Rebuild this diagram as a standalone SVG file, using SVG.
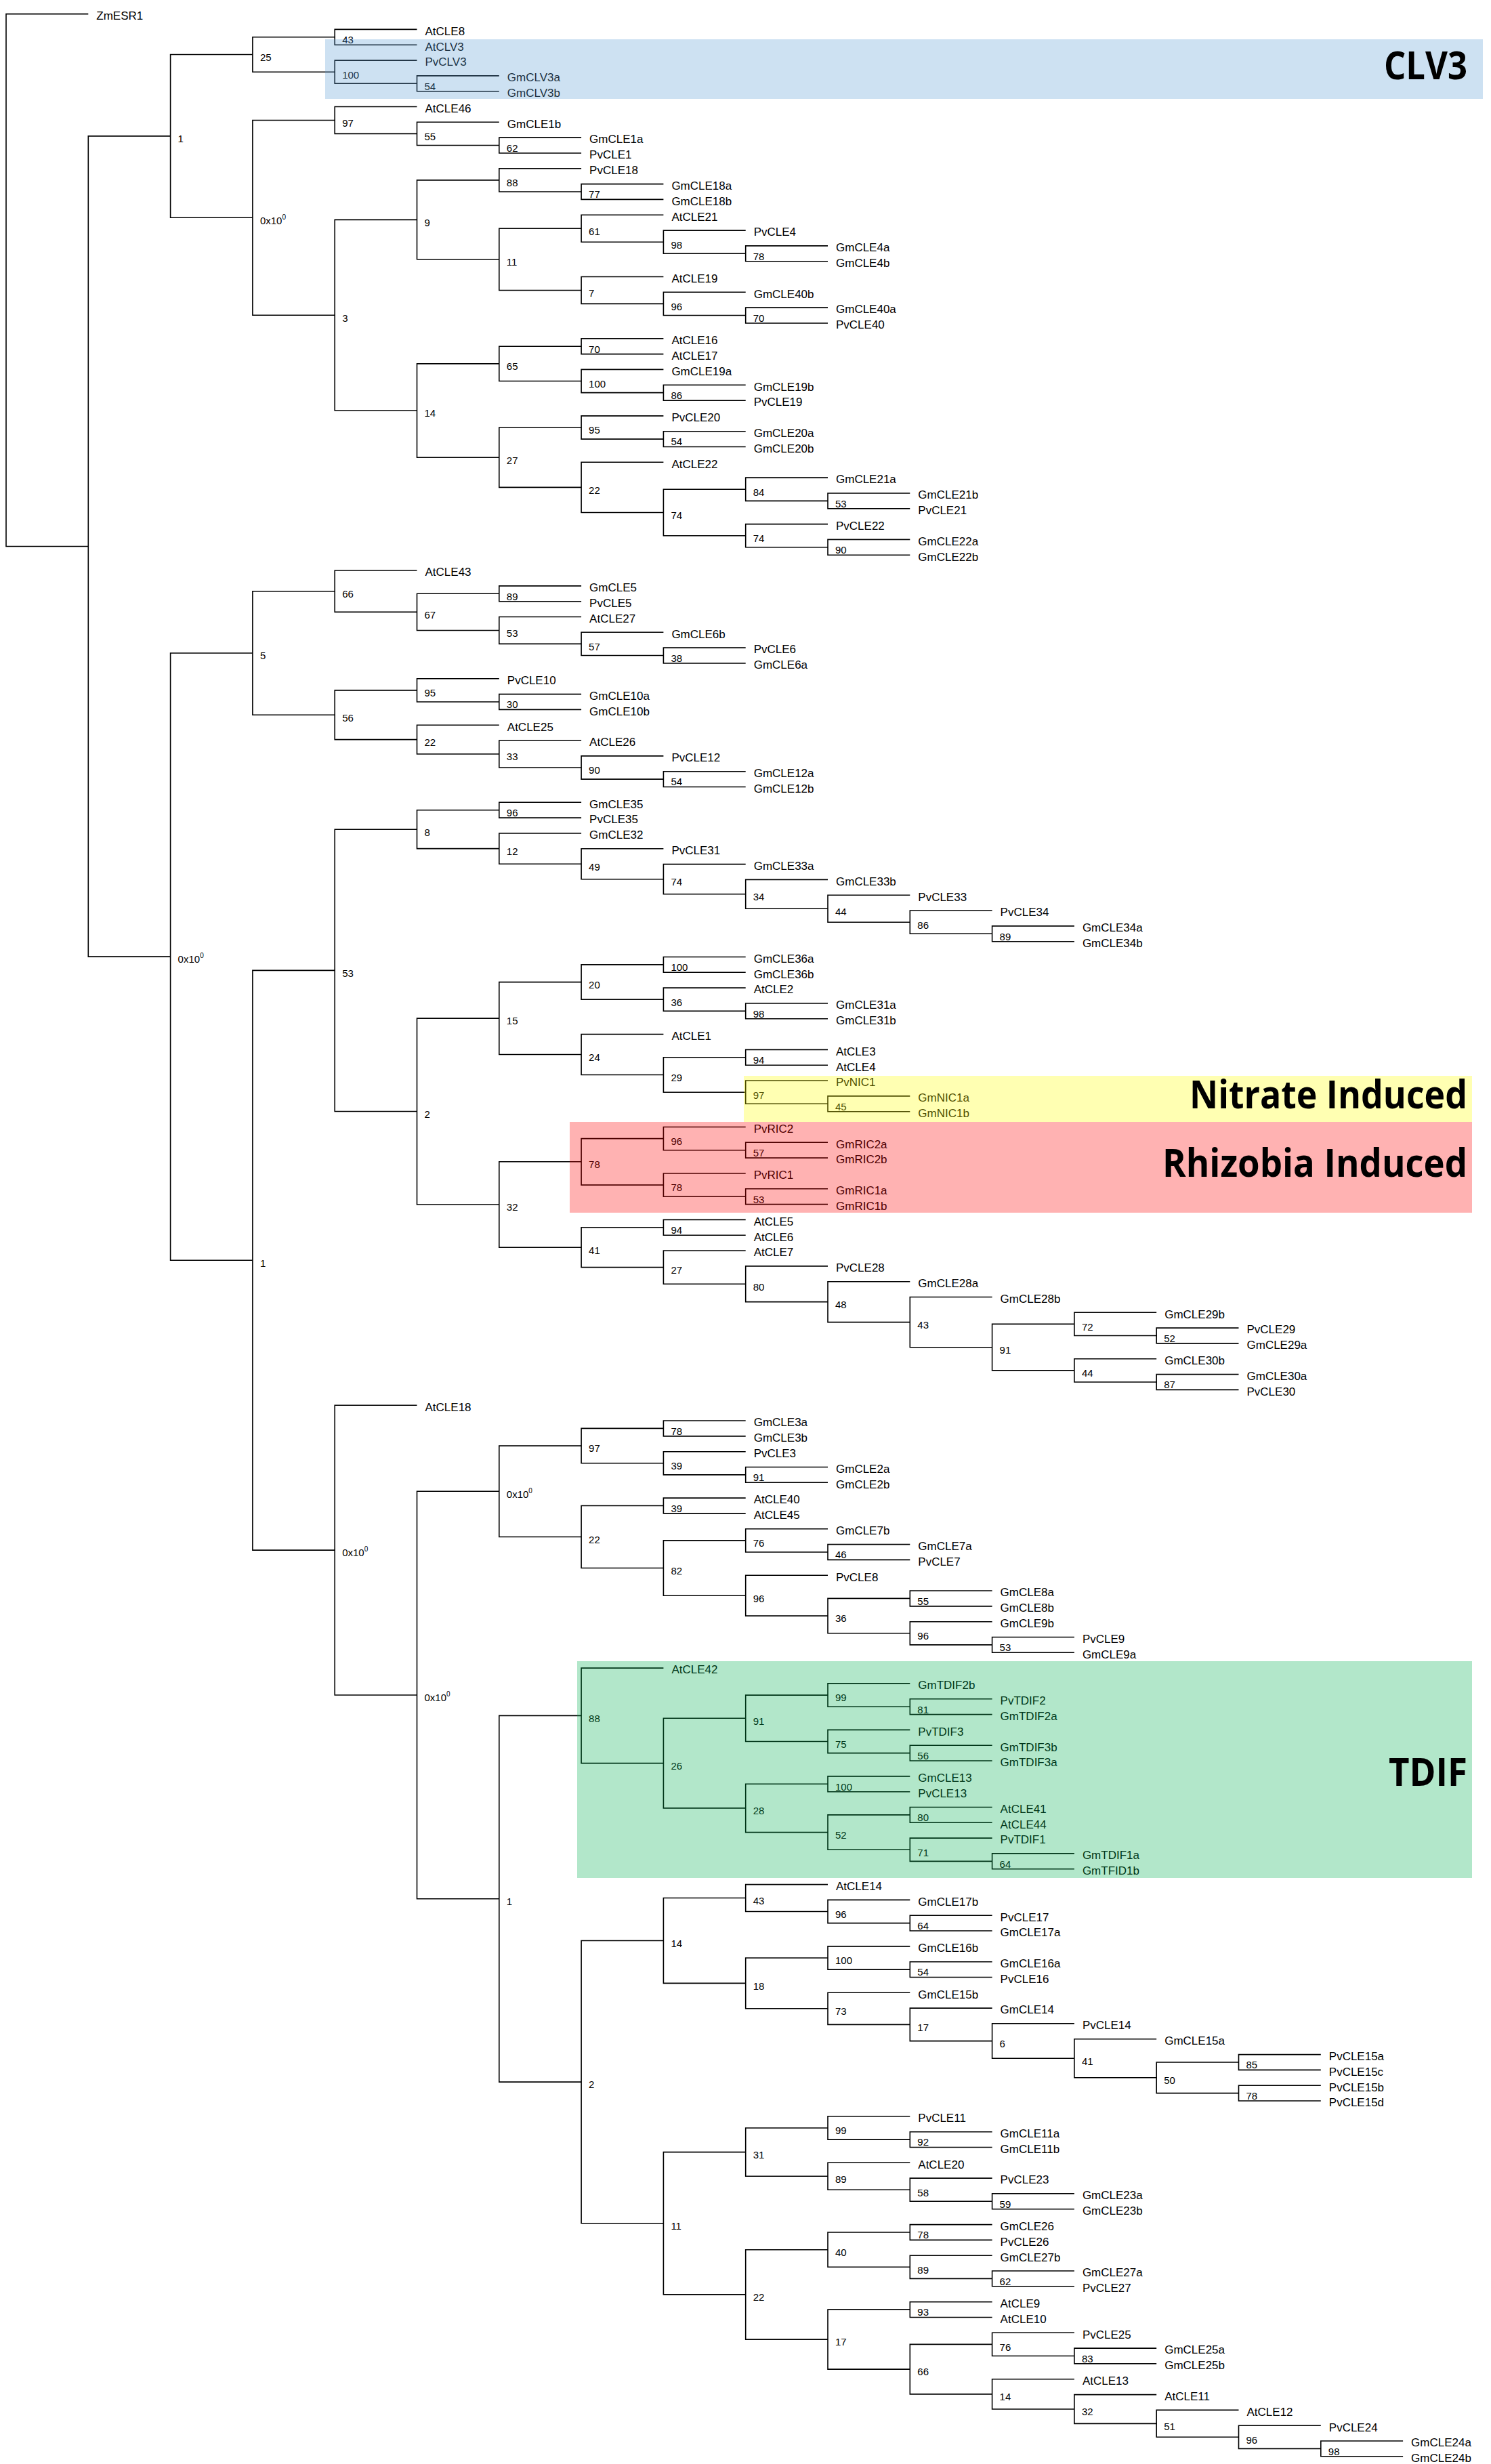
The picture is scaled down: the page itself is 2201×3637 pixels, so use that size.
<svg xmlns="http://www.w3.org/2000/svg" width="2201" height="3637" viewBox="0 0 2201 3637">
<style>
.e path{fill:none;stroke:#000;stroke-width:1.6}
.lf{font-family:"Liberation Sans",Arial,sans-serif;font-size:17px;fill:#000}
.bs{font-family:"Liberation Sans",Arial,sans-serif;font-size:15px;fill:#000}
.sp{font-size:10px}
.hl{fill-opacity:0.3}
.cl{font-family:"Open Sans","Noto Sans",sans-serif;font-weight:700;font-size:57px;fill:#000}
</style>
<rect width="2201" height="3637" fill="#fff"/>
<g id="connectors" class="e">
<path d="M130.3 20.6H9V806.5H130.3"/>
<path d="M251.6 200.9H130.3V1412.1H251.6"/>
<path d="M372.9 80.5H251.6V321.3H372.9"/>
<path d="M494.2 54.8H372.9V106.2H494.2"/>
<path d="M615.5 43.4H494.2V66.2H615.5"/>
<path d="M615.5 89.1H494.2V123.3H615.5"/>
<path d="M736.8 111.9H615.5V134.7H736.8"/>
<path d="M494.2 177.5H372.9V465.2H494.2"/>
<path d="M615.5 157.5H494.2V197.4H615.5"/>
<path d="M736.8 180.3H615.5V214.5H736.8"/>
<path d="M858.1 203.1H736.8V226H858.1"/>
<path d="M615.5 324.4H494.2V606H615.5"/>
<path d="M736.8 265.9H615.5V382.8H736.8"/>
<path d="M858.1 248.8H736.8V283H858.1"/>
<path d="M979.4 271.6H858.1V294.4H979.4"/>
<path d="M858.1 337.2H736.8V428.5H858.1"/>
<path d="M979.4 317.2H858.1V357.2H979.4"/>
<path d="M1100.7 340.1H979.4V374.3H1100.7"/>
<path d="M1222 362.9H1100.7V385.7H1222"/>
<path d="M979.4 408.5H858.1V448.4H979.4"/>
<path d="M1100.7 431.3H979.4V465.5H1100.7"/>
<path d="M1222 454.1H1100.7V477H1222"/>
<path d="M736.8 536.9H615.5V675.2H736.8"/>
<path d="M858.1 511.2H736.8V562.5H858.1"/>
<path d="M979.4 499.8H858.1V522.6H979.4"/>
<path d="M979.4 545.4H858.1V579.6H979.4"/>
<path d="M1100.7 568.2H979.4V591.1H1100.7"/>
<path d="M858.1 631H736.8V719.4H858.1"/>
<path d="M979.4 613.9H858.1V648.1H979.4"/>
<path d="M1100.7 636.7H979.4V659.5H1100.7"/>
<path d="M979.4 682.3H858.1V756.5H979.4"/>
<path d="M1100.7 722.3H979.4V790.7H1100.7"/>
<path d="M1222 705.1H1100.7V739.4H1222"/>
<path d="M1343.3 728H1222V750.8H1343.3"/>
<path d="M1222 773.6H1100.7V807.8H1222"/>
<path d="M1343.3 796.4H1222V819.2H1343.3"/>
<path d="M372.9 964H251.6V1860.2H372.9"/>
<path d="M494.2 872.7H372.9V1055.3H494.2"/>
<path d="M615.5 842H494.2V903.4H615.5"/>
<path d="M736.8 876.3H615.5V930.5H736.8"/>
<path d="M858.1 864.9H736.8V887.7H858.1"/>
<path d="M858.1 910.5H736.8V950.4H858.1"/>
<path d="M979.4 933.3H858.1V967.5H979.4"/>
<path d="M1100.7 956.1H979.4V979H1100.7"/>
<path d="M615.5 1018.9H494.2V1091.6H615.5"/>
<path d="M736.8 1001.8H615.5V1036H736.8"/>
<path d="M858.1 1024.6H736.8V1047.4H858.1"/>
<path d="M736.8 1070.2H615.5V1113H736.8"/>
<path d="M858.1 1093H736.8V1133H858.1"/>
<path d="M979.4 1115.9H858.1V1150.1H979.4"/>
<path d="M1100.7 1138.7H979.4V1161.5H1100.7"/>
<path d="M494.2 1432.4H372.9V2288.1H494.2"/>
<path d="M615.5 1224.2H494.2V1640.5H615.5"/>
<path d="M736.8 1195.7H615.5V1252.6H736.8"/>
<path d="M858.1 1184.3H736.8V1207.1H858.1"/>
<path d="M858.1 1230H736.8V1275.2H858.1"/>
<path d="M979.4 1252.8H858.1V1297.7H979.4"/>
<path d="M1100.7 1275.6H979.4V1319.8H1100.7"/>
<path d="M1222 1298.4H1100.7V1341.2H1222"/>
<path d="M1343.3 1321.2H1222V1361.2H1343.3"/>
<path d="M1464.6 1344H1343.3V1378.3H1464.6"/>
<path d="M1585.9 1366.9H1464.6V1389.7H1585.9"/>
<path d="M736.8 1503.1H615.5V1778H736.8"/>
<path d="M858.1 1449.6H736.8V1556.5H858.1"/>
<path d="M979.4 1423.9H858.1V1475.3H979.4"/>
<path d="M1100.7 1412.5H979.4V1435.3H1100.7"/>
<path d="M1100.7 1458.1H979.4V1492.4H1100.7"/>
<path d="M1222 1481H1100.7V1503.8H1222"/>
<path d="M979.4 1526.6H858.1V1586.5H979.4"/>
<path d="M1100.7 1560.8H979.4V1612.2H1100.7"/>
<path d="M1222 1549.4H1100.7V1572.2H1222"/>
<path d="M1222 1595H1100.7V1629.3H1222"/>
<path d="M1343.3 1617.9H1222V1640.7H1343.3"/>
<path d="M858.1 1714.8H736.8V1841.2H858.1"/>
<path d="M979.4 1680.6H858.1V1749.1H979.4"/>
<path d="M1100.7 1663.5H979.4V1697.7H1100.7"/>
<path d="M1222 1686.3H1100.7V1709.1H1222"/>
<path d="M1100.7 1732H979.4V1766.2H1100.7"/>
<path d="M1222 1754.8H1100.7V1777.6H1222"/>
<path d="M979.4 1811.8H858.1V1870.6H979.4"/>
<path d="M1100.7 1800.4H979.4V1823.2H1100.7"/>
<path d="M1100.7 1846H979.4V1895.2H1100.7"/>
<path d="M1222 1868.9H1100.7V1921.6H1222"/>
<path d="M1343.3 1891.7H1222V1951.6H1343.3"/>
<path d="M1464.6 1914.5H1343.3V1988.7H1464.6"/>
<path d="M1585.9 1954.4H1464.6V2022.9H1585.9"/>
<path d="M1707.2 1937.3H1585.9V1971.5H1707.2"/>
<path d="M1828.5 1960.1H1707.2V1982.9H1828.5"/>
<path d="M1707.2 2005.8H1585.9V2040H1707.2"/>
<path d="M1828.5 2028.6H1707.2V2051.4H1828.5"/>
<path d="M615.5 2074.2H494.2V2502H615.5"/>
<path d="M736.8 2201.3H615.5V2802.7H736.8"/>
<path d="M858.1 2134.1H736.8V2268.5H858.1"/>
<path d="M979.4 2108.4H858.1V2159.8H979.4"/>
<path d="M1100.7 2097H979.4V2119.9H1100.7"/>
<path d="M1100.7 2142.7H979.4V2176.9H1100.7"/>
<path d="M1222 2165.5H1100.7V2188.3H1222"/>
<path d="M979.4 2222.5H858.1V2314.5H979.4"/>
<path d="M1100.7 2211.1H979.4V2233.9H1100.7"/>
<path d="M1100.7 2273.9H979.4V2355.2H1100.7"/>
<path d="M1222 2256.8H1100.7V2291H1222"/>
<path d="M1343.3 2279.6H1222V2302.4H1343.3"/>
<path d="M1222 2325.2H1100.7V2385.1H1222"/>
<path d="M1343.3 2359.4H1222V2410.8H1343.3"/>
<path d="M1464.6 2348H1343.3V2370.9H1464.6"/>
<path d="M1464.6 2393.7H1343.3V2427.9H1464.6"/>
<path d="M1585.9 2416.5H1464.6V2439.3H1585.9"/>
<path d="M858.1 2532.4H736.8V3073.1H858.1"/>
<path d="M979.4 2462.1H858.1V2602.6H979.4"/>
<path d="M1100.7 2536.3H979.4V2668.9H1100.7"/>
<path d="M1222 2502.1H1100.7V2570.5H1222"/>
<path d="M1343.3 2484.9H1222V2519.2H1343.3"/>
<path d="M1464.6 2507.8H1343.3V2530.6H1464.6"/>
<path d="M1343.3 2553.4H1222V2587.6H1343.3"/>
<path d="M1464.6 2576.2H1343.3V2599H1464.6"/>
<path d="M1222 2633.3H1100.7V2704.6H1222"/>
<path d="M1343.3 2621.9H1222V2644.7H1343.3"/>
<path d="M1343.3 2678.9H1222V2730.2H1343.3"/>
<path d="M1464.6 2667.5H1343.3V2690.3H1464.6"/>
<path d="M1464.6 2713.1H1343.3V2747.4H1464.6"/>
<path d="M1585.9 2735.9H1464.6V2758.8H1585.9"/>
<path d="M979.4 2864.5H858.1V3281.8H979.4"/>
<path d="M1100.7 2801.5H979.4V2927.4H1100.7"/>
<path d="M1222 2781.6H1100.7V2821.5H1222"/>
<path d="M1343.3 2804.4H1222V2838.6H1343.3"/>
<path d="M1464.6 2827.2H1343.3V2850H1464.6"/>
<path d="M1222 2890H1100.7V2964.8H1222"/>
<path d="M1343.3 2872.9H1222V2907.1H1343.3"/>
<path d="M1464.6 2895.7H1343.3V2918.5H1464.6"/>
<path d="M1343.3 2941.3H1222V2988.4H1343.3"/>
<path d="M1464.6 2964.1H1343.3V3012.6H1464.6"/>
<path d="M1585.9 2986.9H1464.6V3038.3H1585.9"/>
<path d="M1707.2 3009.8H1585.9V3066.8H1707.2"/>
<path d="M1828.5 3044H1707.2V3089.6H1828.5"/>
<path d="M1949.8 3032.6H1828.5V3055.4H1949.8"/>
<path d="M1949.8 3078.2H1828.5V3101H1949.8"/>
<path d="M1100.7 3176.6H979.4V3386.9H1100.7"/>
<path d="M1222 3141H1100.7V3212.3H1222"/>
<path d="M1343.3 3123.8H1222V3158.1H1343.3"/>
<path d="M1464.6 3146.7H1343.3V3169.5H1464.6"/>
<path d="M1343.3 3192.3H1222V3232.2H1343.3"/>
<path d="M1464.6 3215.1H1343.3V3249.3H1464.6"/>
<path d="M1585.9 3237.9H1464.6V3260.8H1585.9"/>
<path d="M1222 3320.7H1100.7V3453.1H1222"/>
<path d="M1343.3 3295H1222V3346.3H1343.3"/>
<path d="M1464.6 3283.6H1343.3V3306.4H1464.6"/>
<path d="M1464.6 3329.2H1343.3V3363.4H1464.6"/>
<path d="M1585.9 3352H1464.6V3374.8H1585.9"/>
<path d="M1343.3 3409.1H1222V3497.1H1343.3"/>
<path d="M1464.6 3397.7H1343.3V3420.5H1464.6"/>
<path d="M1464.6 3460.4H1343.3V3533.9H1464.6"/>
<path d="M1585.9 3443.3H1464.6V3477.5H1585.9"/>
<path d="M1707.2 3466.1H1585.9V3488.9H1707.2"/>
<path d="M1585.9 3511.8H1464.6V3556H1585.9"/>
<path d="M1707.2 3534.6H1585.9V3577.4H1707.2"/>
<path d="M1828.5 3557.4H1707.2V3597.3H1828.5"/>
<path d="M1949.8 3580.2H1828.5V3614.4H1949.8"/>
<path d="M2071.1 3603H1949.8V3625.8H2071.1"/>
</g>
<g id="support-values" class="bs">
<g id="n-A1"><text x="262.6" y="210.2">1</text></g>
<g id="n-25"><text x="383.9" y="89.8">25</text></g>
<g id="n-43a"><text x="505.2" y="64.1">43</text></g>
<g id="n-100a"><text x="505.2" y="115.5">100</text></g>
<g id="n-54a"><text x="626.5" y="132.6">54</text></g>
<g id="n-A2"><text x="383.9" y="330.6">0x10<tspan class="sp" dy="-7">0</tspan></text></g>
<g id="n-97a"><text x="505.2" y="186.8">97</text></g>
<g id="n-55a"><text x="626.5" y="206.7">55</text></g>
<g id="n-62a"><text x="747.8" y="223.8">62</text></g>
<g id="n-3"><text x="505.2" y="474.5">3</text></g>
<g id="n-9"><text x="626.5" y="333.7">9</text></g>
<g id="n-88a"><text x="747.8" y="275.2">88</text></g>
<g id="n-77"><text x="869.1" y="292.3">77</text></g>
<g id="n-11a"><text x="747.8" y="392.1">11</text></g>
<g id="n-61"><text x="869.1" y="346.5">61</text></g>
<g id="n-98a"><text x="990.4" y="366.5">98</text></g>
<g id="n-78a"><text x="1111.7" y="383.6">78</text></g>
<g id="n-7"><text x="869.1" y="437.8">7</text></g>
<g id="n-96a"><text x="990.4" y="457.7">96</text></g>
<g id="n-70a"><text x="1111.7" y="474.8">70</text></g>
<g id="n-14a"><text x="626.5" y="615.3">14</text></g>
<g id="n-65"><text x="747.8" y="546.2">65</text></g>
<g id="n-70b"><text x="869.1" y="520.5">70</text></g>
<g id="n-100b"><text x="869.1" y="571.8">100</text></g>
<g id="n-86a"><text x="990.4" y="588.9">86</text></g>
<g id="n-27a"><text x="747.8" y="684.5">27</text></g>
<g id="n-95a"><text x="869.1" y="640.3">95</text></g>
<g id="n-54b"><text x="990.4" y="657.4">54</text></g>
<g id="n-22a"><text x="869.1" y="728.7">22</text></g>
<g id="n-74b"><text x="990.4" y="765.8">74</text></g>
<g id="n-84"><text x="1111.7" y="731.6">84</text></g>
<g id="n-53a"><text x="1233" y="748.7">53</text></g>
<g id="n-74a"><text x="1111.7" y="800">74</text></g>
<g id="n-90a"><text x="1233" y="817.1">90</text></g>
<g id="n-B"><text x="262.6" y="1421.4">0x10<tspan class="sp" dy="-7">0</tspan></text></g>
<g id="n-5"><text x="383.9" y="973.3">5</text></g>
<g id="n-66a"><text x="505.2" y="882">66</text></g>
<g id="n-67"><text x="626.5" y="912.7">67</text></g>
<g id="n-89a"><text x="747.8" y="885.6">89</text></g>
<g id="n-53b"><text x="747.8" y="939.8">53</text></g>
<g id="n-57a"><text x="869.1" y="959.7">57</text></g>
<g id="n-38"><text x="990.4" y="976.8">38</text></g>
<g id="n-56a"><text x="505.2" y="1064.6">56</text></g>
<g id="n-95b"><text x="626.5" y="1028.2">95</text></g>
<g id="n-30"><text x="747.8" y="1045.3">30</text></g>
<g id="n-22b"><text x="626.5" y="1100.9">22</text></g>
<g id="n-33"><text x="747.8" y="1122.3">33</text></g>
<g id="n-90b"><text x="869.1" y="1142.3">90</text></g>
<g id="n-54c"><text x="990.4" y="1159.4">54</text></g>
<g id="n-1c"><text x="383.9" y="1869.5">1</text></g>
<g id="n-53d"><text x="505.2" y="1441.7">53</text></g>
<g id="n-8"><text x="626.5" y="1233.5">8</text></g>
<g id="n-96b"><text x="747.8" y="1205">96</text></g>
<g id="n-12"><text x="747.8" y="1261.9">12</text></g>
<g id="n-49"><text x="869.1" y="1284.5">49</text></g>
<g id="n-74c"><text x="990.4" y="1307">74</text></g>
<g id="n-34"><text x="1111.7" y="1329.1">34</text></g>
<g id="n-44a"><text x="1233" y="1350.5">44</text></g>
<g id="n-86b"><text x="1354.3" y="1370.5">86</text></g>
<g id="n-89b"><text x="1475.6" y="1387.6">89</text></g>
<g id="n-2a"><text x="626.5" y="1649.8">2</text></g>
<g id="n-15"><text x="747.8" y="1512.4">15</text></g>
<g id="n-20"><text x="869.1" y="1458.9">20</text></g>
<g id="n-100c"><text x="990.4" y="1433.2">100</text></g>
<g id="n-36a"><text x="990.4" y="1484.6">36</text></g>
<g id="n-98b"><text x="1111.7" y="1501.7">98</text></g>
<g id="n-24"><text x="869.1" y="1565.8">24</text></g>
<g id="n-29"><text x="990.4" y="1595.8">29</text></g>
<g id="n-94a"><text x="1111.7" y="1570.1">94</text></g>
<g id="n-97b"><text x="1111.7" y="1621.5">97</text></g>
<g id="n-45"><text x="1233" y="1638.6">45</text></g>
<g id="n-32a"><text x="747.8" y="1787.3">32</text></g>
<g id="n-78c"><text x="869.1" y="1724.1">78</text></g>
<g id="n-96c"><text x="990.4" y="1689.9">96</text></g>
<g id="n-57b"><text x="1111.7" y="1707">57</text></g>
<g id="n-78b"><text x="990.4" y="1758.4">78</text></g>
<g id="n-53c"><text x="1111.7" y="1775.5">53</text></g>
<g id="n-41a"><text x="869.1" y="1850.5">41</text></g>
<g id="n-94b"><text x="990.4" y="1821.1">94</text></g>
<g id="n-27b"><text x="990.4" y="1879.9">27</text></g>
<g id="n-80a"><text x="1111.7" y="1904.5">80</text></g>
<g id="n-48"><text x="1233" y="1930.9">48</text></g>
<g id="n-43b"><text x="1354.3" y="1960.9">43</text></g>
<g id="n-91a"><text x="1475.6" y="1998">91</text></g>
<g id="n-72"><text x="1596.9" y="1963.7">72</text></g>
<g id="n-52a"><text x="1718.2" y="1980.8">52</text></g>
<g id="n-44b"><text x="1596.9" y="2032.2">44</text></g>
<g id="n-87"><text x="1718.2" y="2049.3">87</text></g>
<g id="n-C"><text x="505.2" y="2297.4">0x10<tspan class="sp" dy="-7">0</tspan></text></g>
<g id="n-D"><text x="626.5" y="2511.3">0x10<tspan class="sp" dy="-7">0</tspan></text></g>
<g id="n-E"><text x="747.8" y="2210.6">0x10<tspan class="sp" dy="-7">0</tspan></text></g>
<g id="n-97c"><text x="869.1" y="2143.4">97</text></g>
<g id="n-78d"><text x="990.4" y="2117.7">78</text></g>
<g id="n-39a"><text x="990.4" y="2169.1">39</text></g>
<g id="n-91b"><text x="1111.7" y="2186.2">91</text></g>
<g id="n-22c"><text x="869.1" y="2277.8">22</text></g>
<g id="n-39b"><text x="990.4" y="2231.8">39</text></g>
<g id="n-82"><text x="990.4" y="2323.8">82</text></g>
<g id="n-76a"><text x="1111.7" y="2283.2">76</text></g>
<g id="n-46"><text x="1233" y="2300.3">46</text></g>
<g id="n-96e"><text x="1111.7" y="2364.5">96</text></g>
<g id="n-36b"><text x="1233" y="2394.4">36</text></g>
<g id="n-55b"><text x="1354.3" y="2368.7">55</text></g>
<g id="n-96d"><text x="1354.3" y="2420.1">96</text></g>
<g id="n-53e"><text x="1475.6" y="2437.2">53</text></g>
<g id="n-F"><text x="747.8" y="2812">1</text></g>
<g id="n-88b"><text x="869.1" y="2541.7">88</text></g>
<g id="n-26"><text x="990.4" y="2611.9">26</text></g>
<g id="n-91c"><text x="1111.7" y="2545.6">91</text></g>
<g id="n-99a"><text x="1233" y="2511.4">99</text></g>
<g id="n-81"><text x="1354.3" y="2528.5">81</text></g>
<g id="n-75"><text x="1233" y="2579.8">75</text></g>
<g id="n-56b"><text x="1354.3" y="2596.9">56</text></g>
<g id="n-28"><text x="1111.7" y="2678.2">28</text></g>
<g id="n-100d"><text x="1233" y="2642.6">100</text></g>
<g id="n-52b"><text x="1233" y="2713.9">52</text></g>
<g id="n-80b"><text x="1354.3" y="2688.2">80</text></g>
<g id="n-71"><text x="1354.3" y="2739.5">71</text></g>
<g id="n-64a"><text x="1475.6" y="2756.7">64</text></g>
<g id="n-2b"><text x="869.1" y="3082.4">2</text></g>
<g id="n-14b"><text x="990.4" y="2873.8">14</text></g>
<g id="n-43c"><text x="1111.7" y="2810.8">43</text></g>
<g id="n-96f"><text x="1233" y="2830.8">96</text></g>
<g id="n-64b"><text x="1354.3" y="2847.9">64</text></g>
<g id="n-18"><text x="1111.7" y="2936.7">18</text></g>
<g id="n-100e"><text x="1233" y="2899.3">100</text></g>
<g id="n-54d"><text x="1354.3" y="2916.4">54</text></g>
<g id="n-73"><text x="1233" y="2974.1">73</text></g>
<g id="n-17a"><text x="1354.3" y="2997.7">17</text></g>
<g id="n-6"><text x="1475.6" y="3021.9">6</text></g>
<g id="n-41b"><text x="1596.9" y="3047.6">41</text></g>
<g id="n-50"><text x="1718.2" y="3076.1">50</text></g>
<g id="n-85"><text x="1839.5" y="3053.3">85</text></g>
<g id="n-78e"><text x="1839.5" y="3098.9">78</text></g>
<g id="n-11b"><text x="990.4" y="3291.1">11</text></g>
<g id="n-31"><text x="1111.7" y="3185.9">31</text></g>
<g id="n-99b"><text x="1233" y="3150.3">99</text></g>
<g id="n-92"><text x="1354.3" y="3167.4">92</text></g>
<g id="n-89c"><text x="1233" y="3221.6">89</text></g>
<g id="n-58"><text x="1354.3" y="3241.5">58</text></g>
<g id="n-59"><text x="1475.6" y="3258.6">59</text></g>
<g id="n-22d"><text x="1111.7" y="3396.2">22</text></g>
<g id="n-40"><text x="1233" y="3330">40</text></g>
<g id="n-78f"><text x="1354.3" y="3304.3">78</text></g>
<g id="n-89d"><text x="1354.3" y="3355.6">89</text></g>
<g id="n-62b"><text x="1475.6" y="3372.7">62</text></g>
<g id="n-17b"><text x="1233" y="3462.4">17</text></g>
<g id="n-93"><text x="1354.3" y="3418.4">93</text></g>
<g id="n-66b"><text x="1354.3" y="3506.4">66</text></g>
<g id="n-76b"><text x="1475.6" y="3469.7">76</text></g>
<g id="n-83"><text x="1596.9" y="3486.8">83</text></g>
<g id="n-14c"><text x="1475.6" y="3543.2">14</text></g>
<g id="n-32b"><text x="1596.9" y="3565.3">32</text></g>
<g id="n-51"><text x="1718.2" y="3586.7">51</text></g>
<g id="n-96g"><text x="1839.5" y="3606.6">96</text></g>
<g id="n-98c"><text x="1960.8" y="3623.7">98</text></g>
</g>
<g id="leaves" class="lf">
<g id="l-ZmESR1"><text x="142.3" y="28.9">ZmESR1</text></g>
<g id="l-AtCLE8"><text x="627.5" y="51.7">AtCLE8</text></g>
<g id="l-AtCLV3"><text x="627.5" y="74.5">AtCLV3</text></g>
<g id="l-PvCLV3"><text x="627.5" y="97.4">PvCLV3</text></g>
<g id="l-GmCLV3a"><text x="748.8" y="120.2">GmCLV3a</text></g>
<g id="l-GmCLV3b"><text x="748.8" y="143">GmCLV3b</text></g>
<g id="l-AtCLE46"><text x="627.5" y="165.8">AtCLE46</text></g>
<g id="l-GmCLE1b"><text x="748.8" y="188.6">GmCLE1b</text></g>
<g id="l-GmCLE1a"><text x="870.1" y="211.4">GmCLE1a</text></g>
<g id="l-PvCLE1"><text x="870.1" y="234.3">PvCLE1</text></g>
<g id="l-PvCLE18"><text x="870.1" y="257.1">PvCLE18</text></g>
<g id="l-GmCLE18a"><text x="991.4" y="279.9">GmCLE18a</text></g>
<g id="l-GmCLE18b"><text x="991.4" y="302.7">GmCLE18b</text></g>
<g id="l-AtCLE21"><text x="991.4" y="325.5">AtCLE21</text></g>
<g id="l-PvCLE4"><text x="1112.7" y="348.4">PvCLE4</text></g>
<g id="l-GmCLE4a"><text x="1234" y="371.2">GmCLE4a</text></g>
<g id="l-GmCLE4b"><text x="1234" y="394">GmCLE4b</text></g>
<g id="l-AtCLE19"><text x="991.4" y="416.8">AtCLE19</text></g>
<g id="l-GmCLE40b"><text x="1112.7" y="439.6">GmCLE40b</text></g>
<g id="l-GmCLE40a"><text x="1234" y="462.4">GmCLE40a</text></g>
<g id="l-PvCLE40"><text x="1234" y="485.3">PvCLE40</text></g>
<g id="l-AtCLE16"><text x="991.4" y="508.1">AtCLE16</text></g>
<g id="l-AtCLE17"><text x="991.4" y="530.9">AtCLE17</text></g>
<g id="l-GmCLE19a"><text x="991.4" y="553.7">GmCLE19a</text></g>
<g id="l-GmCLE19b"><text x="1112.7" y="576.5">GmCLE19b</text></g>
<g id="l-PvCLE19"><text x="1112.7" y="599.4">PvCLE19</text></g>
<g id="l-PvCLE20"><text x="991.4" y="622.2">PvCLE20</text></g>
<g id="l-GmCLE20a"><text x="1112.7" y="645">GmCLE20a</text></g>
<g id="l-GmCLE20b"><text x="1112.7" y="667.8">GmCLE20b</text></g>
<g id="l-AtCLE22"><text x="991.4" y="690.6">AtCLE22</text></g>
<g id="l-GmCLE21a"><text x="1234" y="713.4">GmCLE21a</text></g>
<g id="l-GmCLE21b"><text x="1355.3" y="736.3">GmCLE21b</text></g>
<g id="l-PvCLE21"><text x="1355.3" y="759.1">PvCLE21</text></g>
<g id="l-PvCLE22"><text x="1234" y="781.9">PvCLE22</text></g>
<g id="l-GmCLE22a"><text x="1355.3" y="804.7">GmCLE22a</text></g>
<g id="l-GmCLE22b"><text x="1355.3" y="827.5">GmCLE22b</text></g>
<g id="l-AtCLE43"><text x="627.5" y="850.3">AtCLE43</text></g>
<g id="l-GmCLE5"><text x="870.1" y="873.2">GmCLE5</text></g>
<g id="l-PvCLE5"><text x="870.1" y="896">PvCLE5</text></g>
<g id="l-AtCLE27"><text x="870.1" y="918.8">AtCLE27</text></g>
<g id="l-GmCLE6b"><text x="991.4" y="941.6">GmCLE6b</text></g>
<g id="l-PvCLE6"><text x="1112.7" y="964.4">PvCLE6</text></g>
<g id="l-GmCLE6a"><text x="1112.7" y="987.3">GmCLE6a</text></g>
<g id="l-PvCLE10"><text x="748.8" y="1010.1">PvCLE10</text></g>
<g id="l-GmCLE10a"><text x="870.1" y="1032.9">GmCLE10a</text></g>
<g id="l-GmCLE10b"><text x="870.1" y="1055.7">GmCLE10b</text></g>
<g id="l-AtCLE25"><text x="748.8" y="1078.5">AtCLE25</text></g>
<g id="l-AtCLE26"><text x="870.1" y="1101.3">AtCLE26</text></g>
<g id="l-PvCLE12"><text x="991.4" y="1124.2">PvCLE12</text></g>
<g id="l-GmCLE12a"><text x="1112.7" y="1147">GmCLE12a</text></g>
<g id="l-GmCLE12b"><text x="1112.7" y="1169.8">GmCLE12b</text></g>
<g id="l-GmCLE35"><text x="870.1" y="1192.6">GmCLE35</text></g>
<g id="l-PvCLE35"><text x="870.1" y="1215.4">PvCLE35</text></g>
<g id="l-GmCLE32"><text x="870.1" y="1238.3">GmCLE32</text></g>
<g id="l-PvCLE31"><text x="991.4" y="1261.1">PvCLE31</text></g>
<g id="l-GmCLE33a"><text x="1112.7" y="1283.9">GmCLE33a</text></g>
<g id="l-GmCLE33b"><text x="1234" y="1306.7">GmCLE33b</text></g>
<g id="l-PvCLE33"><text x="1355.3" y="1329.5">PvCLE33</text></g>
<g id="l-PvCLE34"><text x="1476.6" y="1352.3">PvCLE34</text></g>
<g id="l-GmCLE34a"><text x="1597.9" y="1375.2">GmCLE34a</text></g>
<g id="l-GmCLE34b"><text x="1597.9" y="1398">GmCLE34b</text></g>
<g id="l-GmCLE36a"><text x="1112.7" y="1420.8">GmCLE36a</text></g>
<g id="l-GmCLE36b"><text x="1112.7" y="1443.6">GmCLE36b</text></g>
<g id="l-AtCLE2"><text x="1112.7" y="1466.4">AtCLE2</text></g>
<g id="l-GmCLE31a"><text x="1234" y="1489.3">GmCLE31a</text></g>
<g id="l-GmCLE31b"><text x="1234" y="1512.1">GmCLE31b</text></g>
<g id="l-AtCLE1"><text x="991.4" y="1534.9">AtCLE1</text></g>
<g id="l-AtCLE3"><text x="1234" y="1557.7">AtCLE3</text></g>
<g id="l-AtCLE4"><text x="1234" y="1580.5">AtCLE4</text></g>
<g id="l-PvNIC1"><text x="1234" y="1603.3">PvNIC1</text></g>
<g id="l-GmNIC1a"><text x="1355.3" y="1626.2">GmNIC1a</text></g>
<g id="l-GmNIC1b"><text x="1355.3" y="1649">GmNIC1b</text></g>
<g id="l-PvRIC2"><text x="1112.7" y="1671.8">PvRIC2</text></g>
<g id="l-GmRIC2a"><text x="1234" y="1694.6">GmRIC2a</text></g>
<g id="l-GmRIC2b"><text x="1234" y="1717.4">GmRIC2b</text></g>
<g id="l-PvRIC1"><text x="1112.7" y="1740.3">PvRIC1</text></g>
<g id="l-GmRIC1a"><text x="1234" y="1763.1">GmRIC1a</text></g>
<g id="l-GmRIC1b"><text x="1234" y="1785.9">GmRIC1b</text></g>
<g id="l-AtCLE5"><text x="1112.7" y="1808.7">AtCLE5</text></g>
<g id="l-AtCLE6"><text x="1112.7" y="1831.5">AtCLE6</text></g>
<g id="l-AtCLE7"><text x="1112.7" y="1854.3">AtCLE7</text></g>
<g id="l-PvCLE28"><text x="1234" y="1877.2">PvCLE28</text></g>
<g id="l-GmCLE28a"><text x="1355.3" y="1900">GmCLE28a</text></g>
<g id="l-GmCLE28b"><text x="1476.6" y="1922.8">GmCLE28b</text></g>
<g id="l-GmCLE29b"><text x="1719.2" y="1945.6">GmCLE29b</text></g>
<g id="l-PvCLE29"><text x="1840.5" y="1968.4">PvCLE29</text></g>
<g id="l-GmCLE29a"><text x="1840.5" y="1991.2">GmCLE29a</text></g>
<g id="l-GmCLE30b"><text x="1719.2" y="2014.1">GmCLE30b</text></g>
<g id="l-GmCLE30a"><text x="1840.5" y="2036.9">GmCLE30a</text></g>
<g id="l-PvCLE30"><text x="1840.5" y="2059.7">PvCLE30</text></g>
<g id="l-AtCLE18"><text x="627.5" y="2082.5">AtCLE18</text></g>
<g id="l-GmCLE3a"><text x="1112.7" y="2105.3">GmCLE3a</text></g>
<g id="l-GmCLE3b"><text x="1112.7" y="2128.2">GmCLE3b</text></g>
<g id="l-PvCLE3"><text x="1112.7" y="2151">PvCLE3</text></g>
<g id="l-GmCLE2a"><text x="1234" y="2173.8">GmCLE2a</text></g>
<g id="l-GmCLE2b"><text x="1234" y="2196.6">GmCLE2b</text></g>
<g id="l-AtCLE40"><text x="1112.7" y="2219.4">AtCLE40</text></g>
<g id="l-AtCLE45"><text x="1112.7" y="2242.2">AtCLE45</text></g>
<g id="l-GmCLE7b"><text x="1234" y="2265.1">GmCLE7b</text></g>
<g id="l-GmCLE7a"><text x="1355.3" y="2287.9">GmCLE7a</text></g>
<g id="l-PvCLE7"><text x="1355.3" y="2310.7">PvCLE7</text></g>
<g id="l-PvCLE8"><text x="1234" y="2333.5">PvCLE8</text></g>
<g id="l-GmCLE8a"><text x="1476.6" y="2356.3">GmCLE8a</text></g>
<g id="l-GmCLE8b"><text x="1476.6" y="2379.2">GmCLE8b</text></g>
<g id="l-GmCLE9b"><text x="1476.6" y="2402">GmCLE9b</text></g>
<g id="l-PvCLE9"><text x="1597.9" y="2424.8">PvCLE9</text></g>
<g id="l-GmCLE9a"><text x="1597.9" y="2447.6">GmCLE9a</text></g>
<g id="l-AtCLE42"><text x="991.4" y="2470.4">AtCLE42</text></g>
<g id="l-GmTDIF2b"><text x="1355.3" y="2493.2">GmTDIF2b</text></g>
<g id="l-PvTDIF2"><text x="1476.6" y="2516.1">PvTDIF2</text></g>
<g id="l-GmTDIF2a"><text x="1476.6" y="2538.9">GmTDIF2a</text></g>
<g id="l-PvTDIF3"><text x="1355.3" y="2561.7">PvTDIF3</text></g>
<g id="l-GmTDIF3b"><text x="1476.6" y="2584.5">GmTDIF3b</text></g>
<g id="l-GmTDIF3a"><text x="1476.6" y="2607.3">GmTDIF3a</text></g>
<g id="l-GmCLE13"><text x="1355.3" y="2630.2">GmCLE13</text></g>
<g id="l-PvCLE13"><text x="1355.3" y="2653">PvCLE13</text></g>
<g id="l-AtCLE41"><text x="1476.6" y="2675.8">AtCLE41</text></g>
<g id="l-AtCLE44"><text x="1476.6" y="2698.6">AtCLE44</text></g>
<g id="l-PvTDIF1"><text x="1476.6" y="2721.4">PvTDIF1</text></g>
<g id="l-GmTDIF1a"><text x="1597.9" y="2744.2">GmTDIF1a</text></g>
<g id="l-GmTFID1b"><text x="1597.9" y="2767.1">GmTFID1b</text></g>
<g id="l-AtCLE14"><text x="1234" y="2789.9">AtCLE14</text></g>
<g id="l-GmCLE17b"><text x="1355.3" y="2812.7">GmCLE17b</text></g>
<g id="l-PvCLE17"><text x="1476.6" y="2835.5">PvCLE17</text></g>
<g id="l-GmCLE17a"><text x="1476.6" y="2858.3">GmCLE17a</text></g>
<g id="l-GmCLE16b"><text x="1355.3" y="2881.2">GmCLE16b</text></g>
<g id="l-GmCLE16a"><text x="1476.6" y="2904">GmCLE16a</text></g>
<g id="l-PvCLE16"><text x="1476.6" y="2926.8">PvCLE16</text></g>
<g id="l-GmCLE15b"><text x="1355.3" y="2949.6">GmCLE15b</text></g>
<g id="l-GmCLE14"><text x="1476.6" y="2972.4">GmCLE14</text></g>
<g id="l-PvCLE14"><text x="1597.9" y="2995.2">PvCLE14</text></g>
<g id="l-GmCLE15a"><text x="1719.2" y="3018.1">GmCLE15a</text></g>
<g id="l-PvCLE15a"><text x="1961.8" y="3040.9">PvCLE15a</text></g>
<g id="l-PvCLE15c"><text x="1961.8" y="3063.7">PvCLE15c</text></g>
<g id="l-PvCLE15b"><text x="1961.8" y="3086.5">PvCLE15b</text></g>
<g id="l-PvCLE15d"><text x="1961.8" y="3109.3">PvCLE15d</text></g>
<g id="l-PvCLE11"><text x="1355.3" y="3132.1">PvCLE11</text></g>
<g id="l-GmCLE11a"><text x="1476.6" y="3155">GmCLE11a</text></g>
<g id="l-GmCLE11b"><text x="1476.6" y="3177.8">GmCLE11b</text></g>
<g id="l-AtCLE20"><text x="1355.3" y="3200.6">AtCLE20</text></g>
<g id="l-PvCLE23"><text x="1476.6" y="3223.4">PvCLE23</text></g>
<g id="l-GmCLE23a"><text x="1597.9" y="3246.2">GmCLE23a</text></g>
<g id="l-GmCLE23b"><text x="1597.9" y="3269.1">GmCLE23b</text></g>
<g id="l-GmCLE26"><text x="1476.6" y="3291.9">GmCLE26</text></g>
<g id="l-PvCLE26"><text x="1476.6" y="3314.7">PvCLE26</text></g>
<g id="l-GmCLE27b"><text x="1476.6" y="3337.5">GmCLE27b</text></g>
<g id="l-GmCLE27a"><text x="1597.9" y="3360.3">GmCLE27a</text></g>
<g id="l-PvCLE27"><text x="1597.9" y="3383.1">PvCLE27</text></g>
<g id="l-AtCLE9"><text x="1476.6" y="3406">AtCLE9</text></g>
<g id="l-AtCLE10"><text x="1476.6" y="3428.8">AtCLE10</text></g>
<g id="l-PvCLE25"><text x="1597.9" y="3451.6">PvCLE25</text></g>
<g id="l-GmCLE25a"><text x="1719.2" y="3474.4">GmCLE25a</text></g>
<g id="l-GmCLE25b"><text x="1719.2" y="3497.2">GmCLE25b</text></g>
<g id="l-AtCLE13"><text x="1597.9" y="3520.1">AtCLE13</text></g>
<g id="l-AtCLE11"><text x="1719.2" y="3542.9">AtCLE11</text></g>
<g id="l-AtCLE12"><text x="1840.5" y="3565.7">AtCLE12</text></g>
<g id="l-PvCLE24"><text x="1961.8" y="3588.5">PvCLE24</text></g>
<g id="l-GmCLE24a"><text x="2083.1" y="3611.3">GmCLE24a</text></g>
<g id="l-GmCLE24b"><text x="2083.1" y="3634.1">GmCLE24b</text></g>
</g>
<g id="clade-highlights">
<g id="clade-CLV3"><rect class="hl" x="480" y="58" width="1709" height="88" fill="#5B9BD5"/><text class="cl" x="2043" y="116.7" textLength="123" lengthAdjust="spacingAndGlyphs">CLV3</text></g>
<g id="clade-nitrate"><rect class="hl" x="1098" y="1588" width="1075" height="68" fill="#FFFF00"/><text class="cl" x="1756" y="1636" textLength="410" lengthAdjust="spacingAndGlyphs">Nitrate Induced</text></g>
<g id="clade-rhizobia"><rect class="hl" x="841" y="1656" width="1332" height="134" fill="#FF0000"/><text class="cl" x="1716" y="1737" textLength="450" lengthAdjust="spacingAndGlyphs">Rhizobia Induced</text></g>
<g id="clade-TDIF"><rect class="hl" x="852" y="2452" width="1321" height="320" fill="#00B050"/><text class="cl" x="2050" y="2636" textLength="116" lengthAdjust="spacingAndGlyphs">TDIF</text></g>
</g>
</svg>
